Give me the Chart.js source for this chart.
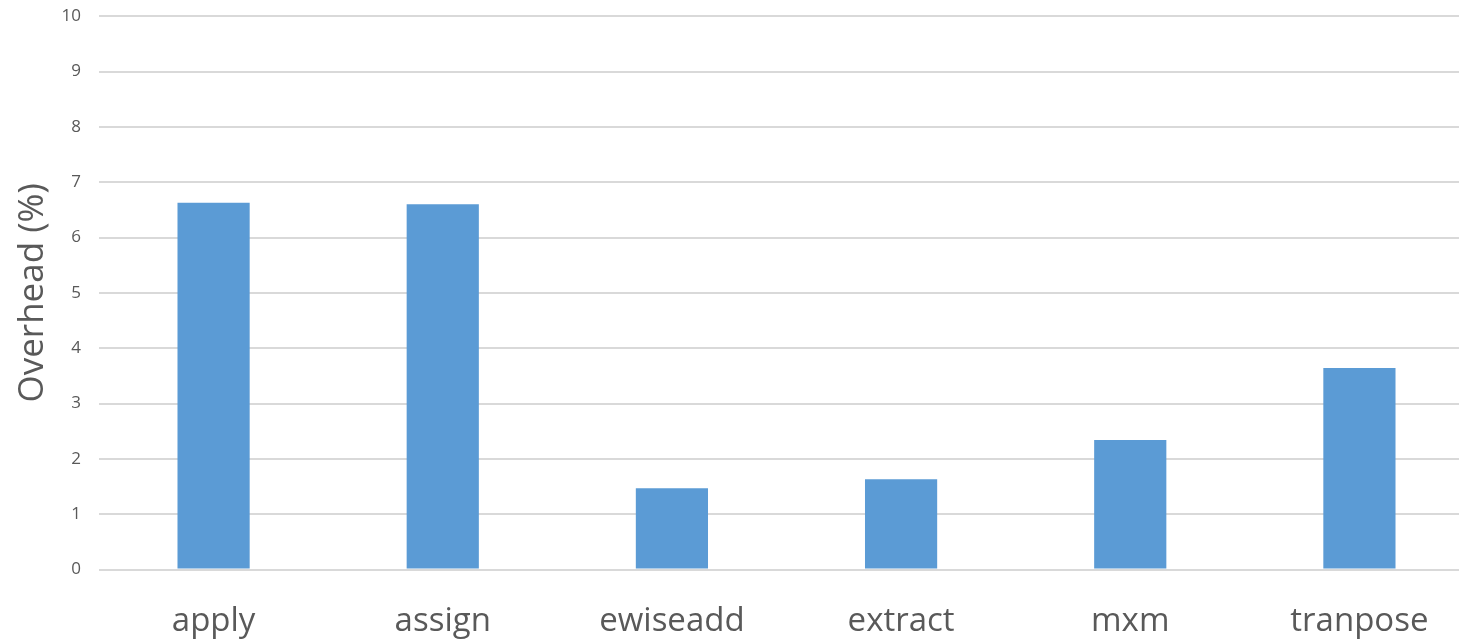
<!DOCTYPE html>
<html>
<head>
<meta charset="utf-8">
<script src="https://cdn.jsdelivr.net/npm/chart.js@4.4.1/dist/chart.umd.min.js"></script>
<style>
  html, body { margin: 0; padding: 0; background: #ffffff; overflow: hidden; }
  #wrap { position: relative; width: 1474px; height: 652px; margin-top: -12px; }
</style>
</head>
<body>
<div id="wrap"><canvas id="chart"></canvas></div>
<script>
// Overhead per GraphBLAS operation
const operations = ['apply', 'assign', 'ewiseadd', 'extract', 'mxm', 'tranpose'];
const overheadPct = [6.63, 6.60, 1.47, 1.63, 2.34, 3.64];
const yTicks = [0, 1, 2, 3, 4, 5, 6, 7, 8, 9, 10];

const FONT = '"Open Sans", "Liberation Sans", sans-serif';
const TEXT = '#595959';
const GRID = '#d9d9d9';

new Chart(document.getElementById('chart'), {
  type: 'bar',
  data: {
    labels: operations,
    datasets: [{
      data: overheadPct,
      backgroundColor: '#5b9bd5',
      borderWidth: 0,
      barPercentage: 1,
      categoryPercentage: 0.315
    }]
  },
  options: {
    responsive: true,
    maintainAspectRatio: false,
    animation: false,
    layout: { padding: { top: 4, right: 0, bottom: 0, left: 0 } },
    plugins: { legend: { display: false }, tooltip: { enabled: false } },
    scales: {
      x: {
        grid: { display: false, drawTicks: false },
        border: { display: false },
        ticks: { color: TEXT, font: { family: FONT, size: 33 }, padding: 32, maxRotation: 0 },
        afterFit: (s) => { s.height = 70.5; }
      },
      y: {
        min: 0,
        max: 10,
        afterBuildTicks: (s) => { s.ticks = yTicks.map(v => ({ value: v })); },
        grid: { color: GRID, lineWidth: 2, drawTicks: false },
        border: { display: false },
        ticks: { color: TEXT, font: { family: FONT, size: 17 }, padding: 18 },
        title: {
          display: true,
          text: 'Overhead (%)',
          color: TEXT,
          font: { family: FONT, size: 35 },
          padding: { top: 12, bottom: 0 }
        },
        afterFit: (s) => { s.width = 99; }
      }
    }
  }
});
</script>
</body>
</html>
